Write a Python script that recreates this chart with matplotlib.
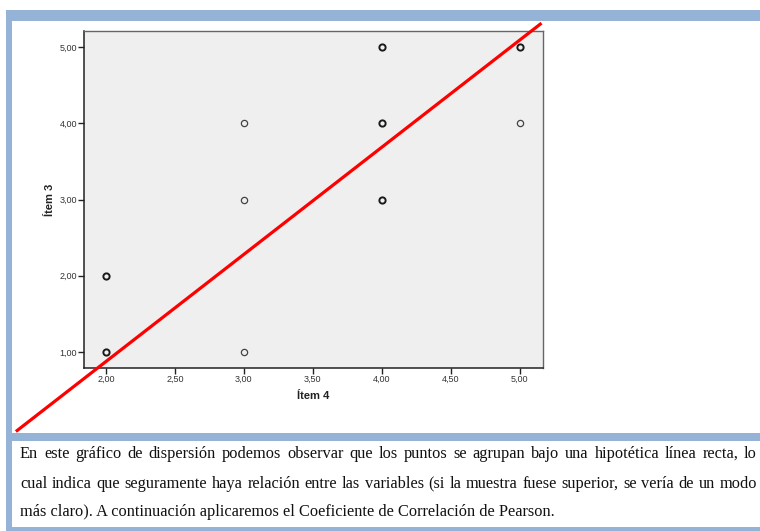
import matplotlib
matplotlib.use('Agg')
import matplotlib.pyplot as plt
from matplotlib.patches import Rectangle
from matplotlib.lines import Line2D

# ---- data ----
item4 = [2, 2, 3, 3, 3, 4, 4, 4, 5, 5]
item3 = [1, 2, 1, 3, 4, 3, 4, 5, 4, 5]
counts = [2, 2, 1, 1, 1, 2, 2, 2, 1, 2]
xticks = [2.0, 2.5, 3.0, 3.5, 4.0, 4.5, 5.0]
yticks = [1.0, 2.0, 3.0, 4.0, 5.0]
line_x = [1.355, 5.15]
line_y = [-0.03, 5.30]
xlabel = "Ítem 4"
ylabel = "Ítem 3"
para_lines = [
    "En este gráfico de dispersión podemos observar que los puntos se agrupan bajo una hipotética línea recta, lo",
    "cual indica que seguramente haya relación entre las variables (si la muestra fuese superior, se vería de un modo",
    "más claro). A continuación aplicaremos el Coeficiente de Correlación de Pearson.",
]

W, H = 760, 531
BLUE = '#95B3D7'
fig = plt.figure(figsize=(W / 100, H / 100), dpi=100, facecolor='white')


def rect(x0, y0, x1, y1, color, z):
    fig.add_artist(Rectangle((x0 / W, 1 - y1 / H), (x1 - x0) / W, (y1 - y0) / H,
                             transform=fig.transFigure, facecolor=color,
                             edgecolor='none', zorder=z))


rect(6, 10, W, H, BLUE, -3)
rect(12, 21, W, 433, 'white', -2)
rect(12, 441, W, 527, 'white', -2)

ax = fig.add_axes([84 / W, 1 - 368 / H, (543 - 84) / W, (368 - 31) / H])
ax.set_facecolor('#EEEFEE')
ax.set_xlim(1.84, 5.17)
ax.set_ylim(0.79, 5.21)

for x, y, c in zip(item4, item3, counts):
    ax.plot([x], [y], 'o', markersize=4.5, markerfacecolor='none',
            markeredgecolor='#1a1a1a' if c > 1 else '#444444',
            markeredgewidth=1.4 if c > 1 else 0.9, zorder=3)

ax.add_line(Line2D(line_x, line_y, color='#FF0000', lw=2.3, clip_on=False, zorder=10))

fmt = lambda v: f"{v:.2f}".replace('.', ',')
ax.set_xticks(xticks)
ax.set_xticklabels([fmt(v) for v in xticks])
ax.set_yticks(yticks)
ax.set_yticklabels([fmt(v) for v in yticks])
ax.tick_params(direction='out', length=4, width=1, color='#222222',
               labelsize=6.5, labelcolor='#333333', pad=1)
for t in ax.get_xticklabels() + ax.get_yticklabels():
    t.set_family('Liberation Sans')
for s in ['left', 'bottom']:
    ax.spines[s].set_color('#222222')
    ax.spines[s].set_linewidth(1.1)
for s in ['top', 'right']:
    ax.spines[s].set_color('#666666')
    ax.spines[s].set_linewidth(1.0)

ax.set_xlabel(xlabel, fontsize=8, fontweight='bold', family='Liberation Sans',
              color='#222222', labelpad=5)
ax.set_ylabel(ylabel, fontsize=8, fontweight='bold', family='Liberation Sans',
              color='#222222', labelpad=3)

# ---- paragraph, justified ----
fig.canvas.draw()
r = fig.canvas.get_renderer()
FONT = dict(family='Liberation Serif', color='#111111')


def measure(s, size):
    t = fig.text(0, 0, s, fontsize=size, **FONT)
    w = t.get_window_extent(r).width
    t.remove()
    return w

size = 11.0
w3 = measure(para_lines[2], size)
size = size * 536 / w3

baselines = [458, 488, 516]
x0, x1 = 20, 757
for i, (line, yb) in enumerate(zip(para_lines, baselines)):
    if i == 2:
        fig.text(x0 / W, 1 - yb / H, line, fontsize=size, va='baseline', zorder=5, **FONT)
        continue
    words = line.split(' ')
    texts = [fig.text(0, 1 - yb / H, w, fontsize=size, va='baseline', zorder=5, **FONT)
             for w in words]
    widths = [t.get_window_extent(r).width for t in texts]
    gap = (x1 - x0 - sum(widths)) / (len(words) - 1)
    x = x0
    for t, w in zip(texts, widths):
        t.set_x(x / W)
        x += w + gap

fig.savefig('out.png', dpi=100, facecolor='white')
